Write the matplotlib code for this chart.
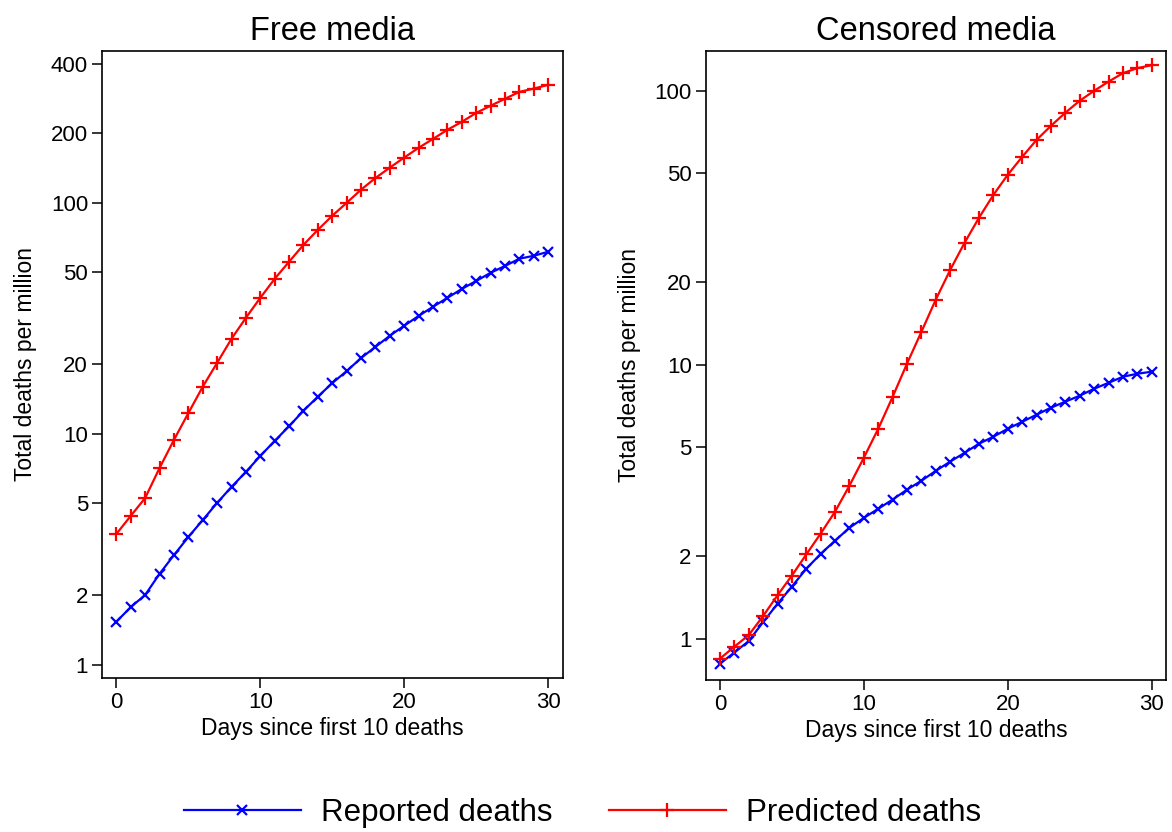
import matplotlib.pyplot as plt
from matplotlib.ticker import FixedLocator, NullLocator

plt.rcParams['font.family'] = ['Liberation Sans', 'DejaVu Sans']

days = list(range(31))

# free media countries
free_reported = [1.54, 1.78, 2.01, 2.48, 2.99, 3.58, 4.24, 5.03, 5.90, 6.85,
                 8.03, 9.33, 10.8, 12.6, 14.5, 16.6, 18.7, 21.3, 23.8, 26.6,
                 29.4, 32.4, 35.5, 38.8, 42.4, 45.9, 49.8, 53.3, 57.3, 59.0, 61.4]
free_predicted = [3.69, 4.42, 5.28, 7.12, 9.42, 12.3, 16.0, 20.3, 25.8, 31.8,
                  38.8, 46.9, 55.6, 65.8, 76.4, 87.9, 100, 114, 128, 142,
                  157, 173, 189, 207, 224, 245, 263, 282, 302, 312, 324]

# censored media countries
cens_reported = [0.81, 0.89, 0.98, 1.15, 1.34, 1.55, 1.80, 2.04, 2.28, 2.54,
                 2.76, 2.98, 3.22, 3.50, 3.77, 4.10, 4.43, 4.77, 5.15, 5.46,
                 5.84, 6.19, 6.57, 6.97, 7.33, 7.71, 8.17, 8.59, 9.04, 9.27, 9.43]
cens_predicted = [0.845, 0.935, 1.03, 1.21, 1.44, 1.70, 2.03, 2.42, 2.91, 3.62,
                  4.58, 5.84, 7.64, 10.1, 13.2, 17.3, 22.2, 27.9, 34.4, 41.7,
                  49.4, 57.4, 66.2, 74.5, 83.2, 92.0, 100, 108, 116, 121, 124]

free_yticks = [1, 2, 5, 10, 20, 50, 100, 200, 400]
cens_yticks = [1, 2, 5, 10, 20, 50, 100]
xticks = [0, 10, 20, 30]


def draw_panel(ax, reported, predicted, yticks, ylim, title):
    l1, = ax.plot(days, reported, color='blue', lw=1.6, marker='x',
                  markersize=7, markeredgewidth=1.6, label='Reported deaths')
    l2, = ax.plot(days, predicted, color='red', lw=1.6, marker='+',
                  markersize=9.5, markeredgewidth=1.6, label='Predicted deaths')
    ax.set_yscale('log')
    ax.set_ylim(*ylim)
    ax.set_xlim(-1, 31)
    ax.yaxis.set_major_locator(FixedLocator(yticks))
    ax.yaxis.set_minor_locator(NullLocator())
    ax.set_yticklabels([str(t) for t in yticks])
    ax.set_xticks(xticks)
    ax.tick_params(direction='out', length=7, width=1.1, labelsize=16, pad=3)
    ax.set_title(title, fontsize=23.5, pad=8)
    ax.set_xlabel('Days since first 10 deaths', fontsize=16.5, labelpad=3)
    ax.set_ylabel('Total deaths per million', fontsize=16.5, labelpad=10)
    for s in ax.spines.values():
        s.set_linewidth(1.2)
    return l1, l2


fig = plt.figure(figsize=(11.72, 8.32), dpi=100)
ax1 = fig.add_axes([0.087, 0.185, 0.393, 0.754])
ax2 = fig.add_axes([0.602, 0.183, 0.393, 0.756])

h1, h2 = draw_panel(ax1, free_reported, free_predicted, free_yticks,
                    (0.878, 455), 'Free media')
draw_panel(ax2, cens_reported, cens_predicted, cens_yticks,
           (0.708, 140), 'Censored media')

fig.legend([h1, h2], ['Reported deaths', 'Predicted deaths'],
           loc='center', bbox_to_anchor=(0.497, 0.023), ncol=2,
           frameon=False, fontsize=22.5, handlelength=3.75, columnspacing=1.8,
           handletextpad=0.64)

fig.savefig('out.png', dpi=100)
